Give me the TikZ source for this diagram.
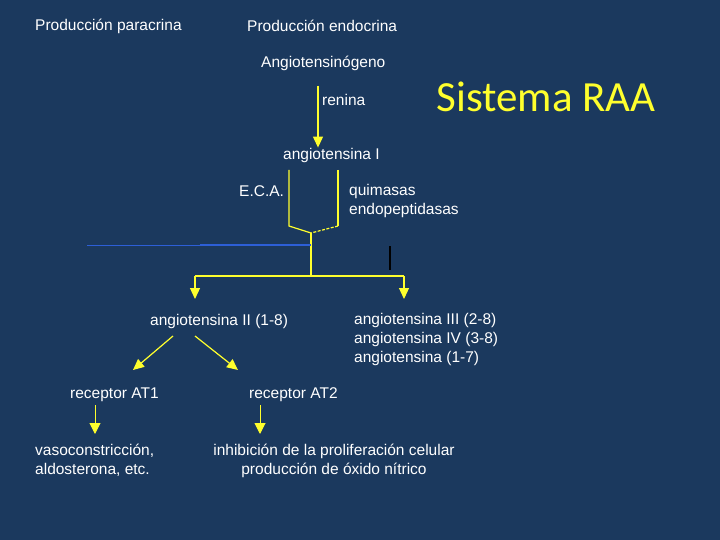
\documentclass[tikz,border=0pt]{standalone}
\usepackage{fontspec}
\setmainfont{Liberation Sans}
\newfontfamily\titlefont{Carlito}
\usetikzlibrary{arrows.meta}
\definecolor{fondo}{RGB}{27,57,94}
\definecolor{amarillo}{RGB}{255,255,45}
\definecolor{azul}{RGB}{45,95,215}

\begin{document}
\begin{tikzpicture}[x=1pt, y=-1pt,
    txt/.style={anchor=west, inner sep=0pt, text=white, align=left, font=\fontsize{15.5}{19}\selectfont},
    flecha/.style={-{Triangle[length=11pt,width=10pt]}, draw=amarillo, fill=amarillo, line width=1.2pt},
    fina/.style={-{Triangle[length=11pt,width=11pt]}, draw=amarillo, fill=amarillo, line width=1pt},
    linea/.style={draw=amarillo, line width=1.2pt}]
        \fill[fondo] (0,0) rectangle (720,540);

          \node[txt] (para) at (35,26) {Producción paracrina};
          \node[txt] (endo) at (247,26) {Producción endocrina};
          \node[txt] (agn) at (261,63) {Angiotensinógeno};
          \node[txt] (ren) at (322,100) {renina};
          \node[txt] (ang1) at (283,155) {angiotensina I};
          \node[txt] (eca) at (239,191) {E.C.A.};
          \node[txt] (quim) at (349,200.5) {quimasas\\endopeptidasas};
          \node[txt] (ang2) at (150,321) {angiotensina II (1-8)};
          \node[txt] (ang3) at (354,339.5) {angiotensina III (2-8)\\angiotensina IV (3-8)\\angiotensina (1-7)};
          \node[txt] (at1) at (70,395) {receptor AT1};
          \node[txt] (at2) at (249,395) {receptor AT2};
          \node[txt] (vaso) at (35,460.5) {vasoconstricción,\\aldosterona, etc.};
          \node[txt, anchor=center, align=center] (inhib) at (334,460.5) {inhibición de la proliferación celular\\producción de óxido nítrico};
          \node[text=amarillo, inner sep=0pt, font=\titlefont\fontsize{43}{50}\selectfont] (titulo) at (546,97) {Sistema RAA};

          % puntos de la horquilla
          \coordinate (rtop) at (318,86);
          \coordinate (forkL) at (289,170);
          \coordinate (forkR) at (338,170);
          \coordinate (forkB) at (311,233);
          \coordinate (junta) at (311,276);
          \coordinate (izq) at (195,276);
          \coordinate (der) at (404,276);
          \coordinate (azulA) at (87,245);
          \coordinate (azulB) at (200,245);

          \draw[flecha] (rtop) -- (rtop |- ang1.north);
          \draw[linea] (forkL) -- ++(0,56) -- (forkB);
          \draw[linea] (forkR) -- ++(0,56);
          \draw[linea, dashed, dash pattern=on 3pt off 1.5pt] (forkR) ++(0,56) -- (forkB);
          \draw[linea] (forkB) -- (junta);
          \draw[azul, line width=1pt] (azulA) -- (azulB);
          \draw[azul, line width=2pt] (azulB) -- (forkB |- azulB);
          \draw[black, line width=2pt] (390,246) -- (390,270);
          \draw[linea] (izq) -- (der);
          \draw[flecha] (izq) -- ++(0,23);
          \draw[flecha] (der) -- ++(0,23);

          \draw[flecha] (173,336) -- (133,370);
          \draw[flecha] (195,336) -- (238,370);
          \draw[fina] (95,405) -- (95,434);
          \draw[fina] (260,405) -- (260,434);

        \end{tikzpicture}
\end{document}
